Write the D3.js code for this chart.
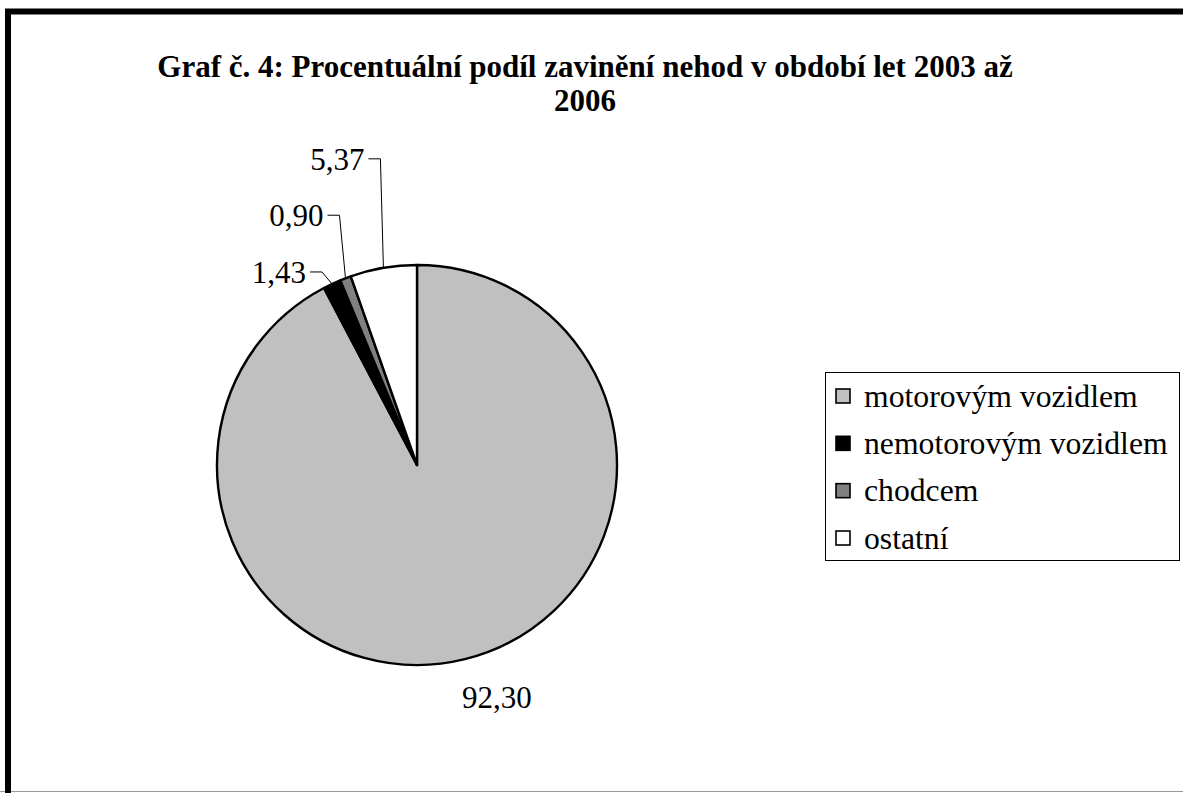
<!DOCTYPE html>
<html>
<head>
<meta charset="utf-8">
<script src="https://cdn.jsdelivr.net/npm/d3@7"></script>
<style>
  html, body { margin: 0; padding: 0; background: #fff; }
  svg { display: block; }
  text { font-family: "Liberation Serif", "Times New Roman", Times, serif; fill: #000; }
</style>
</head>
<body>
<svg id="chart" width="1183" height="793"></svg>
<script>
// Podíl zavinění nehod (%) 2003–2006
const categories = ["motorovým vozidlem", "nemotorovým vozidlem", "chodcem", "ostatní"];
const shares = [92.30, 1.43, 0.90, 5.37];
const valueLabels = ["92,30", "1,43", "0,90", "5,37"];
const fills = ["#c0c0c0", "#000000", "#808080", "#ffffff"];

const titleLines = ["Graf č. 4: Procentuální podíl zavinění nehod v období let 2003 až", "2006"];

// label layout: leader elbow offset from the slice's outer midpoint
const labelLayout = [
  { leader: false, dx: 32, dy: 38 },
  { leader: true, dx: -10, dy: -12 },
  { leader: true, dx: -6, dy: -63 },
  { leader: true, dx: -3, dy: -109 }
];

const W = 1183, H = 793;
const svg = d3.select("#chart");
const serif = '"Liberation Serif", "Times New Roman", Times, serif';

// outer frame
svg.append("line").attr("x1", 0).attr("x2", W).attr("y1", 791.5).attr("y2", 791.5)
  .attr("stroke", "#999").attr("stroke-width", 1);
svg.append("rect").attr("x", 8).attr("y", 11.5).attr("width", W + 20).attr("height", H)
  .attr("fill", "none").attr("stroke", "#000").attr("stroke-width", 6);

// title
const title = svg.append("text").attr("text-anchor", "middle")
  .attr("font-family", serif).attr("font-size", 31).attr("font-weight", "bold");
titleLines.forEach((t, i) => {
  title.append("tspan").attr("x", 585).attr("y", 77 + i * 34).text(t);
});

// pie
const cx = 417, cy = 465, R = 200;
const pie = d3.pie().sort(null).value(d => d).startAngle(0).endAngle(2 * Math.PI);
const arcs = pie(shares);
const arc = d3.arc().innerRadius(0).outerRadius(R);
const g = svg.append("g").attr("transform", `translate(${cx},${cy})`);

g.selectAll("path.slice").data(arcs).join("path")
  .attr("class", "slice")
  .attr("d", arc)
  .attr("fill", (d, i) => fills[i])
  .attr("stroke", "#000").attr("stroke-width", 2.4).attr("stroke-linejoin", "round");

// value labels with leader lines
arcs.forEach((d, i) => {
  const a = (d.startAngle + d.endAngle) / 2;
  const px = Math.sin(a) * R, py = -Math.cos(a) * R;
  const L = labelLayout[i];
  const ex = px + L.dx, ey = py + L.dy;
  if (L.leader) {
    const hx = ex - 12;
    g.append("path")
      .attr("d", d3.line()([[px, py], [ex, ey], [hx, ey]]))
      .attr("fill", "none").attr("stroke", "#000").attr("stroke-width", 1);
    g.append("text").attr("x", hx - 4).attr("y", ey).attr("dy", "0.35em")
      .attr("font-family", serif).attr("text-anchor", "end").attr("font-size", 31)
      .text(valueLabels[i]);
  } else {
    g.append("text").attr("x", ex).attr("y", ey).attr("dy", "0.35em")
      .attr("font-family", serif).attr("text-anchor", "middle").attr("font-size", 31)
      .text(valueLabels[i]);
  }
});

// legend
const lg = svg.append("g").attr("transform", "translate(825,372)");
lg.append("rect").attr("x", 0.5).attr("y", 0.5).attr("width", 354).attr("height", 188)
  .attr("fill", "#fff").attr("stroke", "#000").attr("stroke-width", 1);
const rowY = d3.scalePoint().domain(categories).range([24, 166]);
categories.forEach((c, i) => {
  const y = rowY(c);
  lg.append("rect").attr("x", 11).attr("y", y - 7).attr("width", 14).attr("height", 14)
    .attr("fill", fills[i]).attr("stroke", "#000").attr("stroke-width", 1.6);
  lg.append("text").attr("x", 39).attr("y", y).attr("dy", "0.34em")
    .attr("font-family", serif).attr("font-size", 31.7).text(c);
});
</script>
</body>
</html>
